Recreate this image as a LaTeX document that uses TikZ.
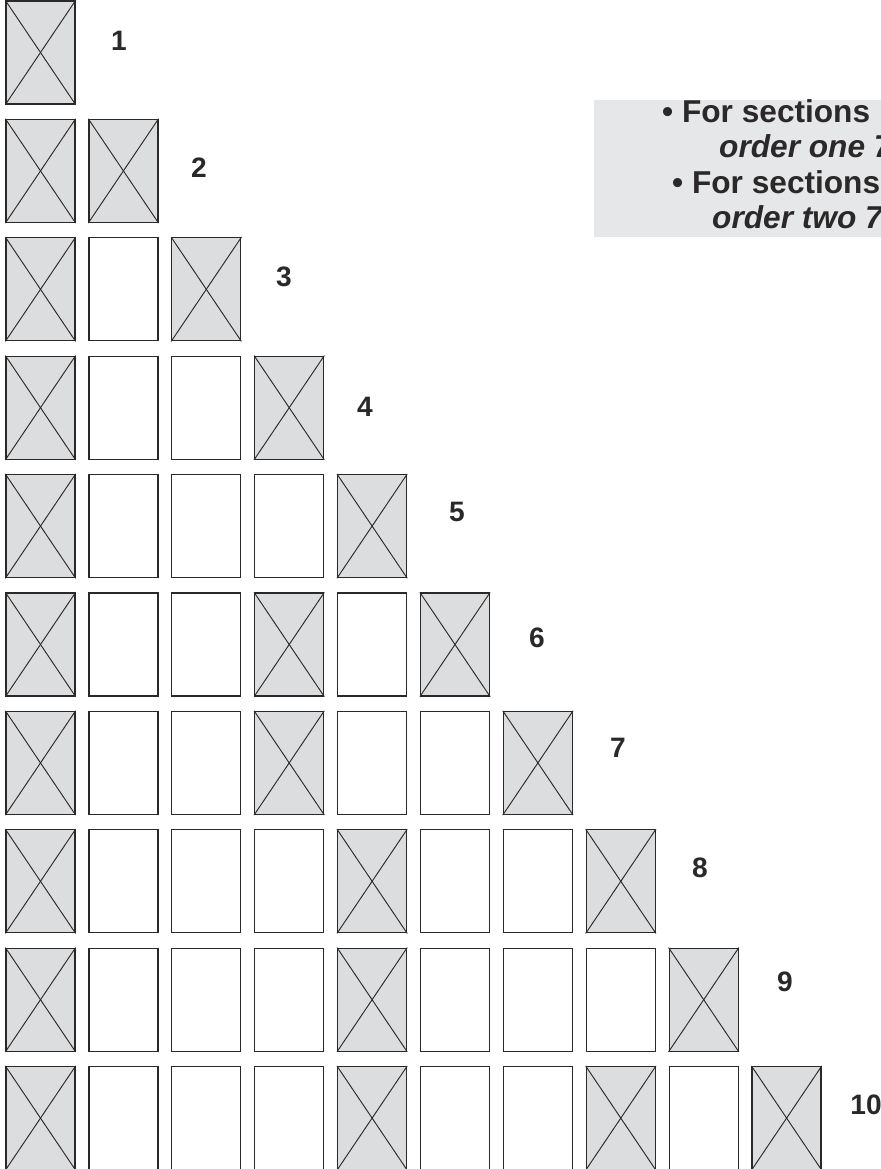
\documentclass[tikz,border=0pt]{standalone}
\usepackage{fontspec}
\setmainfont{Liberation Sans}
\usepackage{tikz}
\usetikzlibrary{calc,positioning}
\definecolor{inkgray}{HTML}{2B2829}
\definecolor{cellgray}{HTML}{DCDDDF}
\definecolor{notegray}{HTML}{E6E7E8}
\tikzset{
  cell/.style={
    draw=inkgray,
    rectangle,
    minimum width=20.7mm,
    minimum height=30.9mm,
    inner sep=0pt,
    line width=1.1pt,
    fill=white,
  },
  xcell/.style={
    cell,
    fill=cellgray,
  },
  xline/.style={draw=inkgray, line width=0.8pt},
  rowlabel/.style={
    inner sep=0pt,
    text=inkgray,
    font=\fontsize{24}{28}\selectfont\bfseries,
  },
  notebox/.style={
    fill=notegray,
    rectangle,
    inner sep=0pt,
    minimum width=90mm,
    minimum height=41.1mm,
  },
  noteline/.style={
    inner sep=0pt,
    anchor=base west,
    text=inkgray,
    font=\fontsize{27}{32}\selectfont\bfseries,
  },
}

\begin{document}
\begin{tikzpicture}[x=0.3mm, y=-0.3mm]
  \useasboundingbox (0,0) rectangle (880,1169);
  % triangle of cells
  \foreach \r in {1,...,10} {
    \foreach \c in {1,...,\r} {
      \pgfmathtruncatemacro{\isx}{(\c==1)||(\c==\r)||(\r==6&&\c==4)||(\r==7&&\c==4)||(\r==8&&\c==5)||(\r==9&&\c==5)||(\r==10&&\c==5)||(\r==10&&\c==8)}
      \ifnum\isx=1
        \node[xcell] (c\r-\c) at ({40.5+(\c-1)*82.9}, {52.5+(\r-1)*118.4}) {};
        \draw[xline] (c\r-\c.north west) -- (c\r-\c.south east);
        \draw[xline] (c\r-\c.north east) -- (c\r-\c.south west);
      \else
        \node[cell] (c\r-\c) at ({40.5+(\c-1)*82.9}, {52.5+(\r-1)*118.4}) {};
      \fi
    }
  }
  % row numbers
  \foreach \r/\lx/\ly in {1/119/41, 2/199/168, 3/284/277, 4/365/407, 5/457/512,
                         6/537/638, 7/618/748, 8/700/868, 9/785/982, 10/866/1105} {
    \node[rowlabel] (n\r) at (\lx, \ly) {\r};
  }
  % note box
  \node[notebox, anchor=north west] (note) at (594,100) {};
  \node[noteline] (l1) at (662,123) {• For sections};
  \node[noteline] (l2) at (719,158) {\itshape order one 7};
  \node[noteline] (l3) at (672,194) {• For sections};
  \node[noteline] (l4) at (712,229) {\itshape order two 7};
\end{tikzpicture}
\end{document}
